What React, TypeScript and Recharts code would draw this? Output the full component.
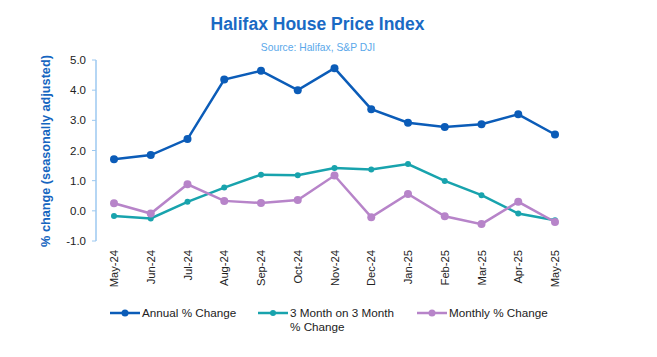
import React from 'react';
import { LineChart, Line, XAxis, YAxis, Legend } from 'recharts';

const months = ['May-24', 'Jun-24', 'Jul-24', 'Aug-24', 'Sep-24', 'Oct-24', 'Nov-24', 'Dec-24', 'Jan-25', 'Feb-25', 'Mar-25', 'Apr-25', 'May-25'];
const annual = [1.71, 1.85, 2.38, 4.35, 4.64, 4.0, 4.73, 3.37, 2.92, 2.78, 2.87, 3.2, 2.53];
const threeMonth = [-0.17, -0.25, 0.3, 0.77, 1.2, 1.18, 1.42, 1.37, 1.55, 0.99, 0.52, -0.09, -0.31];
const monthly = [0.25, -0.09, 0.88, 0.33, 0.26, 0.36, 1.17, -0.21, 0.56, -0.18, -0.44, 0.3, -0.37];
const yTicks = [-1, 0, 1, 2, 3, 4, 5];

const data = months.map((m, i) => ({ month: m, annual: annual[i], threeMonth: threeMonth[i], monthly: monthly[i] }));

const C_ANNUAL = '#0b5cb8';
const C_THREE = '#18a3ad';
const C_MONTHLY = '#b784c9';
const FONT = '"Liberation Sans", Arial, sans-serif';

const XTick = (props: any) => {
  const { x, y, payload } = props;
  return (
    <text x={x} y={y} transform={`rotate(-90 ${x} ${y})`} textAnchor="end" dominantBaseline="central" fontSize={11.2} fill="#222" fontFamily={FONT}>
      {payload.value}
    </text>
  );
};

const legendItems = [
  { label: ['Annual % Change'], color: C_ANNUAL, left: 110, r: 3.5 },
  { label: ['3 Month on 3 Month', '% Change'], color: C_THREE, left: 258, r: 3 },
  { label: ['Monthly % Change'], color: C_MONTHLY, left: 417, r: 3.5 },
];

const LegendContent = () => (
  <div style={{ position: 'relative', width: 657, height: 40, fontFamily: FONT }}>
    {legendItems.map((it) => (
      <div key={it.label[0]} style={{ position: 'absolute', left: it.left, top: 0, display: 'flex', alignItems: 'flex-start' }}>
        <svg width={32} height={14} style={{ display: 'block' }}>
          <line x1={0} y1={7} x2={30} y2={7} stroke={it.color} strokeWidth={2.5} />
          <circle cx={15} cy={7} r={it.r} fill={it.color} />
        </svg>
        <div style={{ fontSize: 11.7, color: '#222', lineHeight: '14px' }}>
          {it.label.map((l) => (
            <div key={l}>{l}</div>
          ))}
        </div>
      </div>
    ))}
  </div>
);

export default function App() {
  return (
    <div style={{ position: 'absolute', left: 0, top: 0, width: 657, height: 357, background: '#fff', fontFamily: FONT }}>
      <div style={{ position: 'absolute', left: 0, top: 14, width: 635, textAlign: 'center', fontSize: 17.5, fontWeight: 'bold', color: '#1a6ac4', lineHeight: '20px' }}>
        Halifax House Price Index
      </div>
      <div style={{ position: 'absolute', left: 0, top: 42, width: 636, textAlign: 'center', fontSize: 10.3, color: '#5aa8ea', lineHeight: '12px' }}>
        Source: Halifax, S&amp;P DJI
      </div>
      <LineChart width={657} height={357} data={data} margin={{ top: 60, right: 84, bottom: 76, left: 0 }}>
        <XAxis
          dataKey="month"
          axisLine={false}
          tickLine={false}
          interval={0}
          padding={{ left: 18, right: 18 }}
          height={40}
          tickSize={6}
          tickMargin={3}
          tick={<XTick />}
        />
        <YAxis
          width={96}
          domain={[-1, 5]}
          ticks={yTicks}
          interval={0}
          tickFormatter={(v: number) => v.toFixed(1)}
          axisLine={{ stroke: '#9cc8f0', strokeWidth: 1.5 }}
          tickLine={{ stroke: '#9cc8f0', strokeWidth: 1 }}
          tickSize={4}
          tickMargin={6}
          tick={{ fontSize: 11.5, fill: '#222', fontFamily: FONT }}
          label={() => (
            <text x={46} y={151} transform="rotate(-90 46 151)" textAnchor="middle" dominantBaseline="central" fontSize={12.7} fontWeight="bold" fill="#1565c0" fontFamily={FONT}>
              % change (seasonally adjusted)
            </text>
          )}
        />
        <Legend layout="horizontal" verticalAlign="middle" align="center" wrapperStyle={{ top: 306, left: 0, width: 657, height: 40 }} content={<LegendContent />} />
        <Line dataKey="annual" name="Annual % Change" stroke={C_ANNUAL} strokeWidth={2.5} dot={{ r: 4, fill: C_ANNUAL, stroke: C_ANNUAL, strokeWidth: 0 }} activeDot={false} isAnimationActive={false} />
        <Line dataKey="threeMonth" name="3 Month on 3 Month % Change" stroke={C_THREE} strokeWidth={2.5} dot={{ r: 3, fill: C_THREE, stroke: C_THREE, strokeWidth: 0 }} activeDot={false} isAnimationActive={false} />
        <Line dataKey="monthly" name="Monthly % Change" stroke={C_MONTHLY} strokeWidth={2.5} dot={{ r: 4, fill: C_MONTHLY, stroke: C_MONTHLY, strokeWidth: 0 }} activeDot={false} isAnimationActive={false} />
      </LineChart>
    </div>
  );
}
